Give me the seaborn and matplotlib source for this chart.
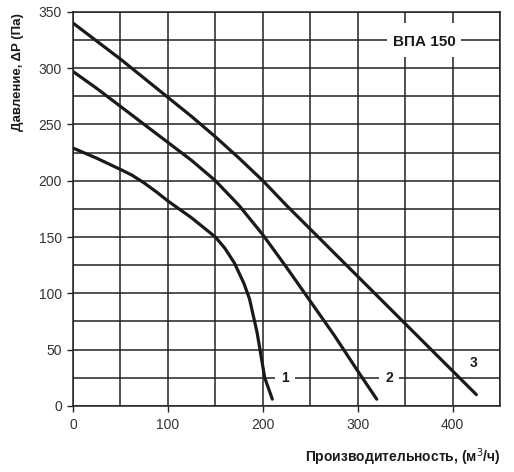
import numpy as np
import pandas as pd
import matplotlib
matplotlib.use("Agg")
import matplotlib.pyplot as plt
from matplotlib.patches import Rectangle
import seaborn as sns

# Curve data (flow m3/h, pressure Pa)
q1 = [0, 25, 50, 62, 75, 88, 100, 125, 150, 160, 170, 180, 186, 190, 194, 197, 202, 210]
p1 = [229, 220, 210, 205, 198, 190, 182, 167, 150, 140, 127, 109, 95, 80, 65, 50, 25, 6]
q2 = [0, 25, 50, 75, 100, 125, 150, 175, 200, 225, 250, 275, 300, 320]
p2 = [297, 282, 266, 250, 234, 218, 200, 178, 152, 123, 93, 63, 31, 6]
q3 = [0, 25, 50, 75, 100, 125, 150, 175, 200, 225, 250, 275, 300, 325, 350, 375, 400, 425]
p3 = [340, 324, 308, 291, 274, 257, 239, 220, 200, 178, 157, 136, 115, 94, 73, 52, 31, 10]

curve_labels = ["1", "2", "3"]
label_pos = [(223, 25), (333, 25), (422, 38)]

xticks = [0, 100, 200, 300, 400]
yticks = [0, 50, 100, 150, 200, 250, 300, 350]

df = pd.concat([
    pd.DataFrame({"q": q1, "p": p1, "curve": "1"}),
    pd.DataFrame({"q": q2, "p": p2, "curve": "2"}),
    pd.DataFrame({"q": q3, "p": p3, "curve": "3"}),
])

sns.set_style("white")
plt.rcParams["font.family"] = ["Liberation Sans", "DejaVu Sans"]

fig = plt.figure(figsize=(5.14, 4.72), dpi=100)
ax = fig.add_axes([0.142, 0.140, 0.831, 0.835])

sns.lineplot(data=df, x="q", y="p", units="curve", estimator=None, sort=False,
             color="#1a1a1a", linewidth=2.3, ax=ax, zorder=3,
             solid_joinstyle="round", solid_capstyle="round")

ax.set_xlim(0, 450)
ax.set_ylim(0, 350)
ax.set_xticks(xticks)
ax.set_yticks(yticks)
ax.set_xticks(np.arange(50, 451, 100), minor=True)
ax.set_yticks(np.arange(25, 351, 50), minor=True)
ax.grid(True, which="both", color="#222222", linewidth=1.1)
ax.set_axisbelow(True)
ax.tick_params(which="major", direction="out", length=4, width=1, color="#222222",
               labelsize=10, labelcolor="#333333", bottom=True, left=True)
ax.tick_params(axis="x", which="major", pad=5)
ax.tick_params(axis="y", which="major", pad=4)
ax.tick_params(which="minor", length=0)
for s in ax.spines.values():
    s.set_color("#222222")
    s.set_linewidth(1.1)
ax.set_xlabel("")
ax.set_ylabel("")

# model label box
ax.add_patch(Rectangle((331, 310), 78, 30, facecolor="white", edgecolor="none", zorder=2))
ax.text(370, 323.5, "ВПА 150", ha="center", va="center", fontsize=11,
        fontweight="bold", color="#1a1a1a", zorder=4)

for lab, (x, y) in zip(curve_labels, label_pos):
    ax.text(x, y, lab, ha="center", va="center", fontsize=10, fontweight="bold",
            color="#1a1a1a", zorder=4,
            bbox=dict(facecolor="white", edgecolor="none",
                      boxstyle="square,pad=0.45") if lab != "3" else None)

fig.text(0.035, 0.847, "Давление, ΔP (Па)", rotation=90, ha="center", va="center",
         fontsize=9.5, fontweight="bold", color="#1a1a1a")
fig.text(0.973, 0.032, "Производительность, (м$^3$/ч)", ha="right", va="center",
         fontsize=10, fontweight="bold", color="#1a1a1a")

fig.savefig("out.png", dpi=100, facecolor="white")
